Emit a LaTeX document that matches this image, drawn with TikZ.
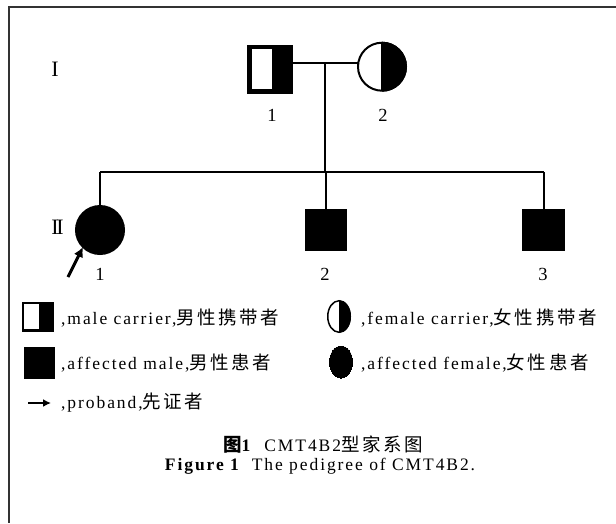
\documentclass[tikz,border=0pt]{standalone}
\usepackage{fontspec}
\setmainfont{Liberation Serif}[LetterSpace=11]
\newfontfamily\cjk{Noto Sans CJK SC}[LetterSpace=14]
\newfontfamily\numfont{Liberation Serif}
\newcommand\mycjk[1]{{\cjk\fontsize{18.5}{20}\selectfont #1}}
\usetikzlibrary{shapes.geometric,arrows.meta}
\tikzset{
  sym/.style={draw, line width=2pt, inner sep=0pt, outer sep=0pt},
  sqfill/.style={sym, rectangle, fill=black},
  cfill/.style={sym, circle, fill=black},
  copen/.style={sym, circle},
  conn/.style={line width=2pt},
  txt/.style={font=\fontsize{17.5}{20}\selectfont, inner sep=0pt},
  num/.style={font=\numfont\fontsize{18.5}{20}\selectfont, inner sep=0pt},
  gen/.style={font=\numfont\fontsize{22}{22}\selectfont, inner sep=0pt},
  frame/.style={line width=2.5pt, draw=black!80},
  proarrow/.style={line width=3pt, -{Latex[length=10pt,width=10pt]}}
}
\begin{document}
\begin{tikzpicture}[x=1pt,y=-1pt]
\useasboundingbox (0,0) rectangle (616,523);
\draw[frame] (616,7) -- (9,7) -- (9,523);

% generation labels
\node[gen] (g1) at (55,69) {I};
\node[gen] (g2) at (57.5,227.5) {I\kern-2.3pt I};

% generation I
\node[sqfill, minimum width=44pt, minimum height=47pt] (i1) at (270,69) {};
\fill[white] (252,49) rectangle (272,89);
\node[copen, minimum size=48pt] (i2) at (382,66.7) {};
\begin{scope}
  \clip (382,30) rectangle (420,110);
  \fill (i2.center) circle [radius=25];
\end{scope}
\draw[conn] (i2.north) -- (i2.south);
\coordinate (mar) at (325,63.3);
\coordinate (sib) at (325,172.3);
\draw[conn] (i1.east |- mar) -- (i2.west |- mar);
\draw[conn] (mar) -- (sib);
\node[num] (l11) at (272,115) {1};
\node[num] (l12) at (383,115) {2};

% generation II
\node[cfill, minimum size=48pt] (c1) at (100,230) {};
\node[sqfill, minimum width=40pt, minimum height=40pt] (c2) at (326,230) {};
\node[sqfill, minimum width=41pt, minimum height=40pt] (c3) at (543.5,230) {};
\draw[conn] (c1.north |- sib) -- (c3.north |- sib);
\draw[conn] (c1.north |- sib) -- (c1.north);
\draw[conn] (c2.north |- sib) -- (c2.north);
\draw[conn] (c3.north |- sib) -- (c3.north);
\node[num] (l21) at (100,274) {1};
\node[num] (l22) at (325,274) {2};
\node[num] (l23) at (543,274) {3};
\coordinate (pa) at (68,277);
\draw[proarrow] (pa) -- (c1.south west);

% legend
\node[sqfill, line width=0pt, minimum width=31pt, minimum height=29pt] (lmc) at (37.5,316.5) {};
\fill[white] ([shift={(2,2)}]lmc.north west) rectangle ([shift={(17,-2)}]lmc.south west);
\node[txt, anchor=west] (tmc) at (61,318) {,male carrier,\mycjk{男性携带者}};

\node[sym, ellipse, line width=1.5pt, minimum width=22.5pt, minimum height=31.5pt] (lfc) at (339,316.5) {};
\begin{scope}
  \clip (339,295) rectangle (360,340);
  \fill (lfc.center) ellipse [x radius=12, y radius=16.5];
\end{scope}
\node[txt, anchor=west] (tfc) at (361,318) {,female carrier,\mycjk{女性携带者}};

\node[sqfill, line width=0pt, minimum width=30pt, minimum height=31pt] (lam) at (39,362.5) {};
\node[txt, anchor=west] (tam) at (61,363) {,affected male,\mycjk{男性患者}};

\node[sym, ellipse, fill=black, line width=0pt, minimum width=23pt, minimum height=32pt] (laf) at (341,362) {};
\node[txt, anchor=west] (taf) at (361,363) {,affected female,\mycjk{女性患者}};

\coordinate (la0) at (28,403);
\coordinate (la1) at (51,403);
\draw[line width=2.5pt, -{Latex[length=8pt,width=8pt]}] (la0) -- (la1);
\node[txt, anchor=west] (tpr) at (61,403) {,proband,\mycjk{先证者}};

% caption
\node[txt] (cap1) at (323,445) {{\bfseries\mycjk{图}1}\hspace{14pt}CMT4B2\mycjk{型家系图}};
\node[txt] (cap2) at (320,466) {{\bfseries Figure 1}\hspace{13pt}The pedigree of CMT4B2.};
\end{tikzpicture}
\end{document}
